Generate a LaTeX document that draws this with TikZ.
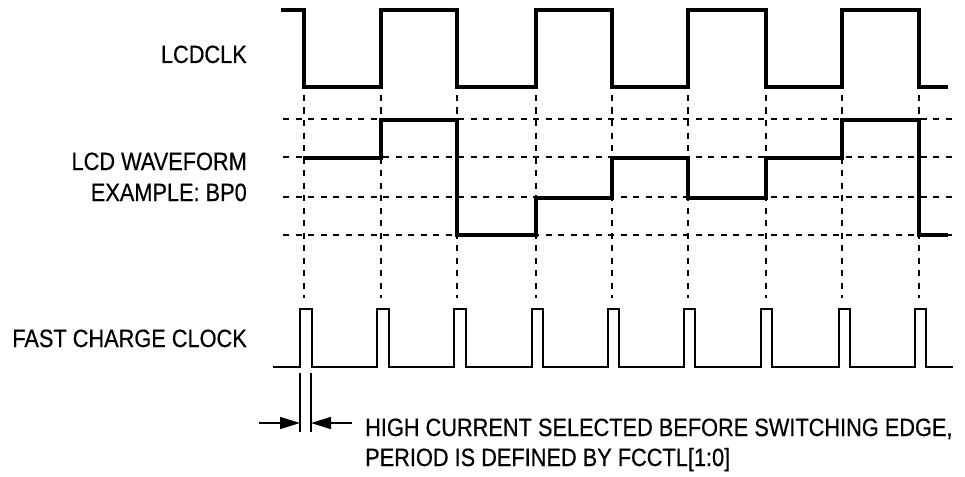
\documentclass[tikz,border=0pt]{standalone}
\usepackage{fontspec}
\setmainfont{Liberation Sans}[FakeStretch=0.87,FakeBold=0.45]
\usetikzlibrary{arrows.meta}
\begin{document}
\begin{tikzpicture}[x=1pt,y=-1pt,
  wave/.style={line width=3.3pt},
  fast/.style={line width=2.8pt},
  gridline/.style={line width=2.2pt, dash pattern=on 6pt off 6.5pt},
  dim/.style={line width=1.6pt},
  dimarrow/.style={line width=1.6pt, -{Triangle[length=20pt,width=12pt]}},
  lbl/.style={inner sep=0pt, font=\fontsize{25}{30}\selectfont}]
\useasboundingbox[fill=white] (0,0) rectangle (965,476);
% vertical dashed lines at LCDCLK edges
\foreach \x in {304,381,457,536,612,688,766,842,919}{
  \draw[gridline] (\x,95) -- (\x,298);
}
% horizontal dashed levels
\foreach \y in {119,157,197,235}{
  \draw[gridline] (283,\y) -- (955,\y);
}
% LCDCLK
\draw[wave] (281,10) -- (304,10) -- (304,87) -- (381,87) -- (381,10) -- (457,10)
  -- (457,87) -- (536,87) -- (536,10) -- (612,10) -- (612,87) -- (688,87)
  -- (688,10) -- (766,10) -- (766,87) -- (842,87) -- (842,10) -- (919,10)
  -- (919,87) -- (948,87);
% LCD waveform
\draw[wave] (303,158) -- (381,158) -- (381,120) -- (457,120) -- (457,235)
  -- (536,235) -- (536,198) -- (612,198) -- (612,158) -- (688,158)
  -- (688,198) -- (766,198) -- (766,158) -- (842,158) -- (842,120)
  -- (919,120) -- (919,235) -- (948,235);
% Fast charge clock
\draw[fast] (273,367) -- (300,367) -- (300,309) -- (312,309) -- (312,367)
  -- (377,367) -- (377,309) -- (389,309) -- (389,367)
  -- (454,367) -- (454,309) -- (466,309) -- (466,367)
  -- (532,367) -- (532,309) -- (543,309) -- (543,367)
  -- (608,367) -- (608,309) -- (619,309) -- (619,367)
  -- (684,367) -- (684,309) -- (695,309) -- (695,367)
  -- (761,367) -- (761,309) -- (772,309) -- (772,367)
  -- (839,367) -- (839,309) -- (850,309) -- (850,367)
  -- (915,367) -- (915,309) -- (926,309) -- (926,367)
  -- (953,367);
% dimension
\coordinate (d1t) at (300,373);
\coordinate (d1b) at (300,432);
\coordinate (d2t) at (311,373);
\coordinate (d2b) at (311,432);
\coordinate (a1s) at (259,423);
\coordinate (a1e) at (300,423);
\coordinate (a2s) at (352,423);
\coordinate (a2e) at (311,423);
\draw[dim] (d1t) -- (d1b);
\draw[dim] (d2t) -- (d2b);
\draw[dimarrow] (a1s) -- (a1e);
\draw[dimarrow] (a2s) -- (a2e);
% labels
\node[lbl, anchor=base east] (lcdclk) at (247,63) {LCDCLK};
\node[lbl, anchor=base east] (wf1) at (247,170) {LCD WAVEFORM};
\node[lbl, anchor=base east] (wf2) at (247,201) {EXAMPLE: BP0};
\node[lbl, anchor=base east] (fcc) at (247,347) {FAST CHARGE CLOCK};
\node[lbl, anchor=base west] (n1) at (365,436) {HIGH CURRENT SELECTED BEFORE SWITCHING EDGE,};
\node[lbl, anchor=base west] (n2) at (365,466) {PERIOD IS DEFINED BY FCCTL[1:0]};
\end{tikzpicture}
\end{document}
